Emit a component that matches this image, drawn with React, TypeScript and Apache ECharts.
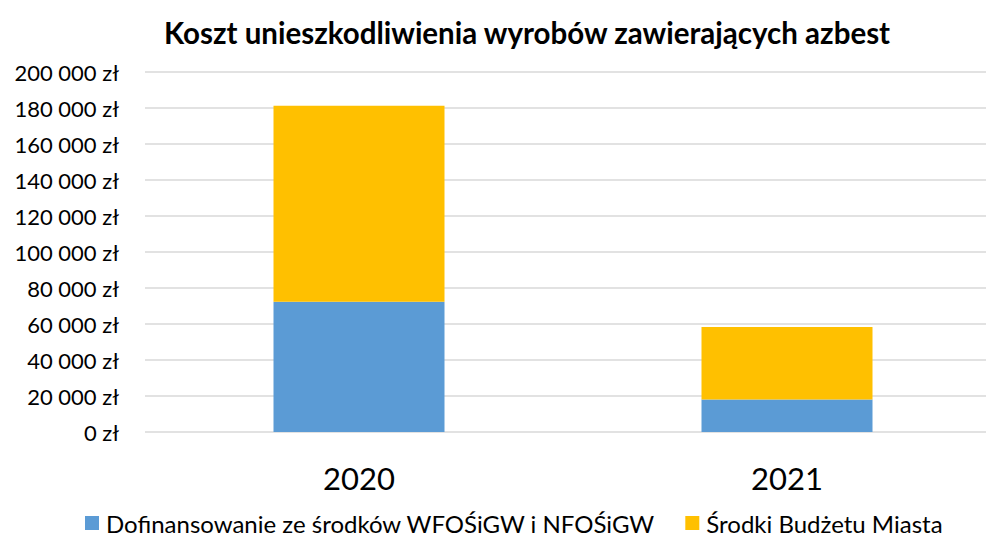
import React, { useEffect, useRef } from "react";
import * as echarts from "echarts";

const TITLE = "Koszt unieszkodliwienia wyrobów zawierających azbest";
const YEARS = ["2020", "2021"];
const SERIES_NAMES = ["Dofinansowanie ze środków WFOŚiGW i NFOŚiGW", "Środki Budżetu Miasta"];
const DOFINANSOWANIE = [72400, 18100];
const BUDZET_MIASTA = [108900, 40200];
const Y_MIN = 0;
const Y_MAX = 200000;
const Y_STEP = 20000;

const FONT = "Lato, 'Open Sans', sans-serif";

function fmt(v: number): string {
  const s = String(Math.round(v));
  return s.replace(/\B(?=(\d{3})+(?!\d))/g, " ") + " zł";
}

export default function App() {
  const ref = useRef<HTMLDivElement>(null);
  useEffect(() => {
    if (!ref.current) return;
    const chart = echarts.init(ref.current, null, { renderer: "svg" });
    chart.setOption({
      animation: false,
      backgroundColor: "#ffffff",
      textStyle: { fontFamily: FONT, color: "#000" },
      title: {
        text: TITLE,
        left: 522,
        top: 12,
        textAlign: "center",
        textStyle: { fontFamily: FONT, fontWeight: "bold", fontSize: 29.5, color: "#000" },
      },
      legend: {
        left: 80,
        top: 506,
        itemWidth: 14,
        itemHeight: 14,
        itemGap: 30,
        icon: "rect",
        data: SERIES_NAMES,
        textStyle: { fontFamily: FONT, fontSize: 24, color: "#000", padding: [0, 0, 0, 2] },
      },
      grid: {
        left: 145,
        top: 72,
        width: 856,
        height: 360,
        containLabel: false,
        outerBoundsMode: "none",
      },
      xAxis: {
        type: "category",
        data: YEARS,
        axisLine: { show: false },
        axisTick: { show: false },
        axisLabel: { fontFamily: FONT, fontSize: 31, color: "#000", margin: 30 },
      },
      yAxis: {
        type: "value",
        min: Y_MIN,
        max: Y_MAX,
        interval: Y_STEP,
        axisLine: { show: false },
        axisTick: { show: false },
        splitLine: { lineStyle: { color: "#d9d9d9", width: 1.5 } },
        axisLabel: {
          fontFamily: FONT,
          fontSize: 22,
          color: "#000",
          margin: 26,
          formatter: (v: number) => fmt(v),
        },
      },
      series: [
        {
          name: SERIES_NAMES[0],
          type: "bar",
          stack: "total",
          data: DOFINANSOWANIE,
          barWidth: 171,
          itemStyle: { color: "#5B9BD5" },
        },
        {
          name: SERIES_NAMES[1],
          type: "bar",
          stack: "total",
          data: BUDZET_MIASTA,
          barWidth: 171,
          itemStyle: { color: "#FFC000" },
        },
      ],
    });
    return () => chart.dispose();
  }, []);
  return (
    <div
      ref={ref}
      style={{ position: "fixed", left: 0, top: 0, width: 986, height: 536, background: "#fff" }}
    />
  );
}
